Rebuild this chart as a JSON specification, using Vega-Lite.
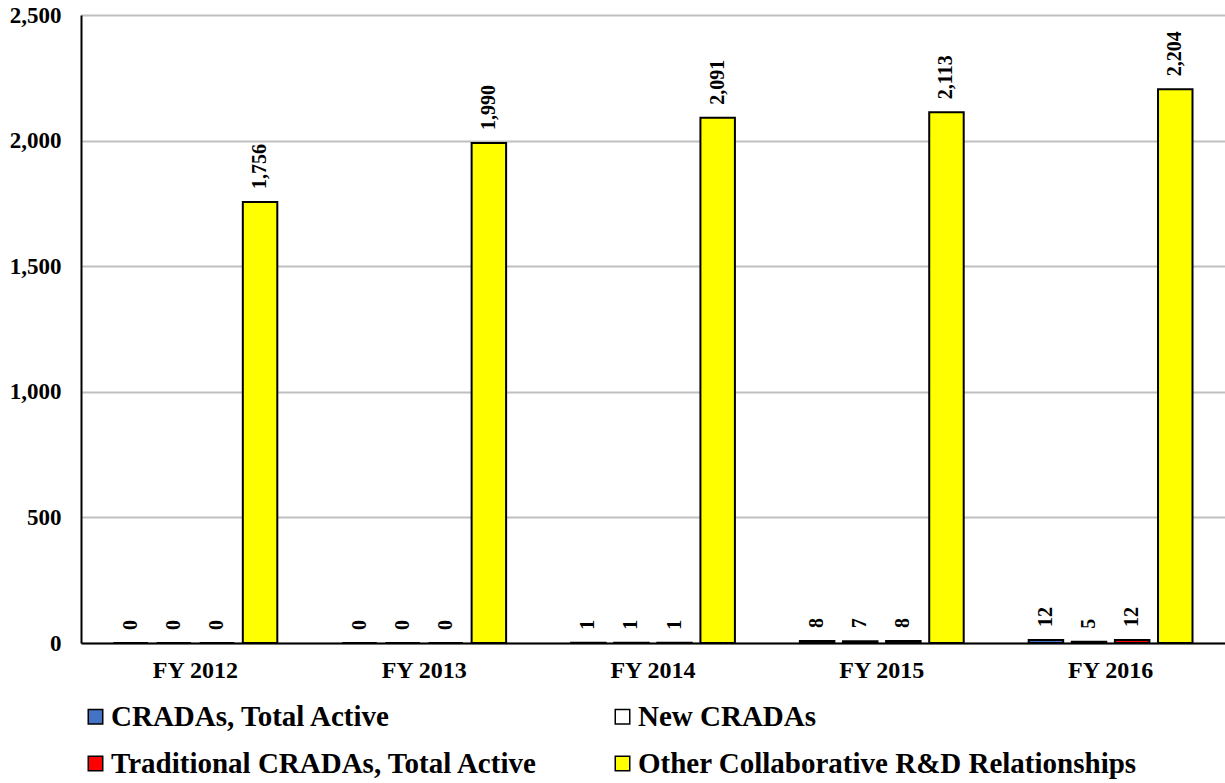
{
  "$schema": "https://vega.github.io/schema/vega-lite/v6.json",
  "width": 1144,
  "height": 628,
  "autosize": {"type": "none"},
  "padding": {"left": 81, "top": 15, "right": 0, "bottom": 140},
  "background": "white",
  "config": {
    "font": "Liberation Serif",
    "view": {"stroke": null},
    "axis": {"labelFont": "Liberation Serif", "labelFontWeight": "bold", "labelColor": "black"}
  },
  "data": {
    "values": [
      {"year": "FY 2012", "series": "CRADAs, Total Active", "value": 0},
      {"year": "FY 2012", "series": "New CRADAs", "value": 0},
      {"year": "FY 2012", "series": "Traditional CRADAs, Total Active", "value": 0},
      {"year": "FY 2012", "series": "Other Collaborative R&D Relationships", "value": 1756},
      {"year": "FY 2013", "series": "CRADAs, Total Active", "value": 0},
      {"year": "FY 2013", "series": "New CRADAs", "value": 0},
      {"year": "FY 2013", "series": "Traditional CRADAs, Total Active", "value": 0},
      {"year": "FY 2013", "series": "Other Collaborative R&D Relationships", "value": 1990},
      {"year": "FY 2014", "series": "CRADAs, Total Active", "value": 1},
      {"year": "FY 2014", "series": "New CRADAs", "value": 1},
      {"year": "FY 2014", "series": "Traditional CRADAs, Total Active", "value": 1},
      {"year": "FY 2014", "series": "Other Collaborative R&D Relationships", "value": 2091},
      {"year": "FY 2015", "series": "CRADAs, Total Active", "value": 8},
      {"year": "FY 2015", "series": "New CRADAs", "value": 7},
      {"year": "FY 2015", "series": "Traditional CRADAs, Total Active", "value": 8},
      {"year": "FY 2015", "series": "Other Collaborative R&D Relationships", "value": 2113},
      {"year": "FY 2016", "series": "CRADAs, Total Active", "value": 12},
      {"year": "FY 2016", "series": "New CRADAs", "value": 5},
      {"year": "FY 2016", "series": "Traditional CRADAs, Total Active", "value": 12},
      {"year": "FY 2016", "series": "Other Collaborative R&D Relationships", "value": 2204}
    ]
  },
  "encoding": {
    "x": {
      "field": "year", "type": "nominal", "title": null,
      "scale": {"paddingInner": 0.284, "paddingOuter": 0.142},
      "axis": {"labelAngle": 0, "labelFontSize": 24, "labelPadding": 15, "ticks": false, "domainColor": "black", "domainWidth": 2, "grid": false}
    },
    "xOffset": {
      "field": "series", "type": "nominal",
      "sort": ["CRADAs, Total Active", "New CRADAs", "Traditional CRADAs, Total Active", "Other Collaborative R&D Relationships"],
      "scale": {"paddingInner": 0.2, "paddingOuter": 0}
    },
    "y": {
      "field": "value", "type": "quantitative", "title": null,
      "scale": {"domain": [0, 2500], "nice": false},
      "axis": {"values": [0, 500, 1000, 1500, 2000, 2500], "format": ",.0f", "labelFontSize": 23, "labelPadding": 20, "ticks": false, "domainColor": "black", "domainWidth": 2, "gridColor": "#bfbfbf", "gridWidth": 2}
    }
  },
  "layer": [
    {
      "mark": {"type": "bar", "stroke": "black", "strokeWidth": 2},
      "encoding": {
        "color": {
          "field": "series", "type": "nominal", "title": null,
          "sort": ["CRADAs, Total Active", "New CRADAs", "Traditional CRADAs, Total Active", "Other Collaborative R&D Relationships"],
          "scale": {
            "domain": ["CRADAs, Total Active", "New CRADAs", "Traditional CRADAs, Total Active", "Other Collaborative R&D Relationships"],
            "range": ["#4472C4", "#FFFFFF", "#FF0000", "#FFFF00"]
          },
          "legend": {
            "orient": "none", "legendX": 0, "legendY": 687, "direction": "horizontal",
            "columns": 2, "columnPadding": 70, "rowPadding": 17,
            "symbolType": "square", "symbolSize": 210, "symbolStrokeColor": "black", "symbolStrokeWidth": 1.5,
            "symbolOpacity": 1,
            "labelFont": "Liberation Serif", "labelFontWeight": "bold", "labelFontSize": 29, "labelColor": "black",
            "labelLimit": 700, "labelOffset": 1
          }
        }
      }
    },
    {
      "mark": {"type": "text", "angle": 270, "align": "left", "baseline": "middle", "dx": 13, "font": "Liberation Serif", "fontWeight": "bold", "fontSize": 20, "color": "black"},
      "encoding": {
        "text": {"field": "value", "type": "quantitative", "format": ","}
      }
    }
  ]
}
